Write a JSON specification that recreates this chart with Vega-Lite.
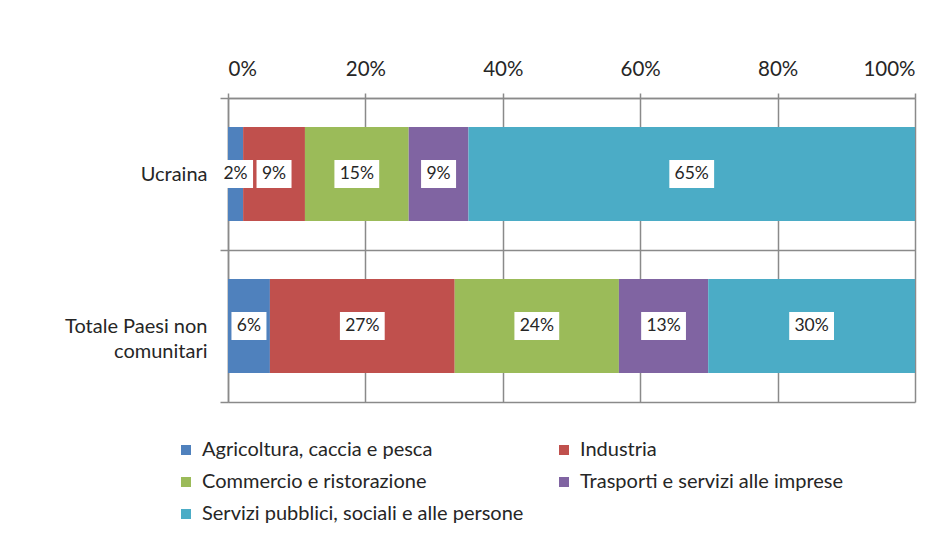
{
  "$schema": "https://vega.github.io/schema/vega-lite/v6.json",
  "width": 687,
  "height": 304,
  "autosize": {"type": "none"},
  "padding": {"left": 228, "top": 98, "right": 30, "bottom": 133},
  "background": "white",
  "config": {
    "view": {"stroke": null},
    "font": "Lato",
    "axis": {"labelFont": "Lato", "labelColor": "#262626", "domainColor": "#8a8a8a", "tickColor": "#8a8a8a", "gridColor": "#8a8a8a", "domainWidth": 1.5, "tickWidth": 1.5, "gridWidth": 1.5, "gridOpacity": 1},
    "legend": {"labelFont": "Lato", "labelColor": "#262626"}
  },
  "data": {
    "values": [
      {"paese": "Ucraina", "settore": "Agricoltura, caccia e pesca", "ord": 1, "value": 2.2},
      {"paese": "Ucraina", "settore": "Industria", "ord": 2, "value": 9.0},
      {"paese": "Ucraina", "settore": "Commercio e ristorazione", "ord": 3, "value": 15.1},
      {"paese": "Ucraina", "settore": "Trasporti e servizi alle imprese", "ord": 4, "value": 8.7},
      {"paese": "Ucraina", "settore": "Servizi pubblici, sociali e alle persone", "ord": 5, "value": 65.0},
      {"paese": "Totale Paesi non comunitari", "settore": "Agricoltura, caccia e pesca", "ord": 1, "value": 6.1},
      {"paese": "Totale Paesi non comunitari", "settore": "Industria", "ord": 2, "value": 26.9},
      {"paese": "Totale Paesi non comunitari", "settore": "Commercio e ristorazione", "ord": 3, "value": 23.9},
      {"paese": "Totale Paesi non comunitari", "settore": "Trasporti e servizi alle imprese", "ord": 4, "value": 13.0},
      {"paese": "Totale Paesi non comunitari", "settore": "Servizi pubblici, sociali e alle persone", "ord": 5, "value": 30.1}
    ]
  },
  "transform": [
    {"stack": "value", "groupby": ["paese"], "sort": [{"field": "ord", "order": "ascending"}], "as": ["v0", "v1"]},
    {"calculate": "(datum.v0 + datum.v1) / 2", "as": "mid"},
    {"calculate": "round(datum.value) + '%'", "as": "label"}
  ],
  "encoding": {
    "y": {
      "field": "paese",
      "type": "nominal",
      "sort": ["Ucraina", "Totale Paesi non comunitari"],
      "scale": {"paddingInner": 0, "paddingOuter": 0},
      "axis": {
        "title": null,
        "tickBand": "extent",
        "grid": true,
        "tickSize": 8,
        "labelPadding": 13,
        "labelFontSize": 20,
        "labelLimit": 300,
        "labelAlign": "right",
        "labelExpr": "datum.value == 'Totale Paesi non comunitari' ? ['Totale Paesi non', 'comunitari'] : datum.value",
        "labelLineHeight": 25
      }
    }
  },
  "layer": [
    {
      "mark": {"type": "bar", "height": {"band": 0.62}},
      "encoding": {
        "x": {
          "field": "v0",
          "type": "quantitative",
          "scale": {"domain": [0, 100], "nice": false},
          "axis": {
            "title": null,
            "orient": "top",
            "values": [0, 20, 40, 60, 80, 100],
            "labelExpr": "datum.value + '%'",
            "grid": true,
            "tickSize": 5,
            "labelPadding": 14,
            "labelFontSize": 20.5
          }
        },
        "x2": {"field": "v1"},
        "color": {
          "field": "settore",
          "type": "nominal",
          "scale": {
            "domain": ["Agricoltura, caccia e pesca", "Industria", "Commercio e ristorazione", "Trasporti e servizi alle imprese", "Servizi pubblici, sociali e alle persone"],
            "range": ["#4F81BD", "#C0504D", "#9BBB59", "#8064A2", "#4BACC6"]
          },
          "legend": {
            "title": null,
            "orient": "none",
            "direction": "horizontal",
            "legendX": -52,
            "legendY": 342,
            "columns": 2,
            "columnPadding": 30,
            "rowPadding": 12,
            "symbolType": "square",
            "symbolSize": 100,
            "symbolStrokeWidth": 0,
            "labelFontSize": 20,
            "labelOffset": 6,
            "labelLimit": 450
          }
        },
        "order": {"field": "ord", "type": "quantitative"}
      }
    },
    {
      "mark": {"type": "point", "filled": true, "color": "white", "opacity": 1, "size": 784, "strokeWidth": 0},
      "encoding": {
        "x": {"field": "mid", "type": "quantitative", "title": null},
        "shape": {
          "condition": {"test": "length(datum.label) > 2", "value": "M-1.6,-1H1.6V1H-1.6Z"},
          "value": "M-1.25,-1H1.25V1H-1.25Z"
        }
      }
    },
    {
      "mark": {"type": "text", "fontSize": 17.5, "color": "#262626", "font": "Lato"},
      "encoding": {
        "x": {"field": "mid", "type": "quantitative", "title": null},
        "text": {"field": "label"}
      }
    }
  ]
}
